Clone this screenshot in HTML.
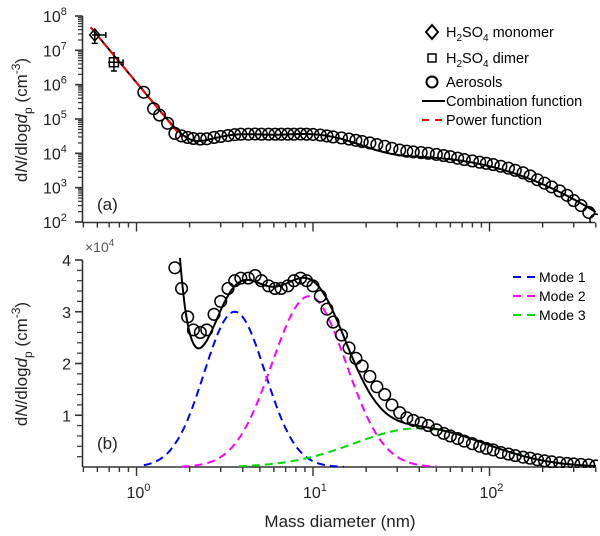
<!DOCTYPE html>
<html><head><meta charset="utf-8">
<style>
html,body{margin:0;padding:0;background:#fff;}
svg{display:block;font-family:"Liberation Sans",Arial,sans-serif;}
</style></head>
<body>
<svg id="chart" width="600" height="536" viewBox="0 0 600 536">
<defs>
<clipPath id="clipTop"><rect x="83" y="10" width="515" height="213"/></clipPath>
<clipPath id="clipBot"><rect x="83" y="258" width="515" height="210"/></clipPath>
</defs>
<g id="topPanel"></g>
<g id="botPanel"></g>
</svg>
<script>
// ---------- data ----------
const diam = [1.1,1.25,1.35,1.5,1.65,1.8,1.95,2.1,2.3,2.5,2.75,3.0,3.3,3.6,3.9,4.3,4.7,5.1,5.6,6.1,6.6,7.2,7.8,8.5,9.2,10,11,12,13,14.5,16,17.5,19,21,23,25.5,28,31,34,37,41,45,50,55,60,66,72,80,88,96,105,116,128,140,155,170,187,205,225,250,275,300,330,365,400];
const topVals = [6e5,2e5,1.3e5,7.5e4,3.8e4,3.2e4,2.9e4,2.7e4,2.6e4,2.65e4,2.9e4,3.1e4,3.3e4,3.5e4,3.6e4,3.6e4,3.65e4,3.6e4,3.6e4,3.6e4,3.6e4,3.6e4,3.6e4,3.65e4,3.6e4,3.55e4,3.4e4,3.2e4,3.0e4,2.8e4,2.6e4,2.4e4,2.2e4,2.0e4,1.8e4,1.6e4,1.4e4,1.25e4,1.15e4,1.1e4,1.05e4,1.0e4,9.3e3,8.6e3,8e3,7.2e3,6.6e3,6e3,5.5e3,5.1e3,4.7e3,4.2e3,3.7e3,3.2e3,2.7e3,2.2e3,1.7e3,1.35e3,1.05e3,800,600,420,300,190,115];
const botVals = [9,9,9,9,3.85,3.45,2.9,2.65,2.6,2.65,2.95,3.2,3.45,3.6,3.65,3.65,3.7,3.6,3.5,3.45,3.45,3.5,3.6,3.65,3.6,3.5,3.3,3.05,2.8,2.55,2.3,2.1,1.95,1.75,1.55,1.4,1.2,1.05,0.95,0.9,0.85,0.8,0.72,0.65,0.6,0.55,0.5,0.45,0.4,0.36,0.33,0.28,0.25,0.22,0.19,0.17,0.14,0.12,0.1,0.08,0.07,0.06,0.05,0.04,0.02];
const monomer = [0.58, 2.8e7];
const monomerErrX = [0.56, 0.67];
const monomerErrY = [1.6e7, 4.0e7];
const dimer = [0.745, 4.5e6];
const dimerErrX = [0.69, 0.84];
const dimerErrY = [2.5e6, 9e6];
const modePeaks = [3.0, 3.3, 0.75];
const modeCenters = [3.6, 9.5, 40];
const modeSigmas = [0.173, 0.21, 0.37];
const modeStart = [1.1, 1.8, 3.8];
const modeEnd = [15, 50, 400];
const powerParams = [1.15e6, -6.2];
const powerRange = [0.55, 1.8];
const yTopTicks = [2,3,4,5,6,7,8];
const yBotTicks = [1,2,3,4];
const xTickExp = [0,1,2];

// ---------- scales ----------
const X = d => 136.5 + 176.5*Math.log10(d);
const YT = v => 16 + (8 - Math.log10(v))*34.33;
const YB = v => 467 - v*51.75;
const NS = 'http://www.w3.org/2000/svg';
function mk(tag, attrs, parent){const e=document.createElementNS(NS,tag);for(const k in attrs)e.setAttribute(k,attrs[k]);parent.appendChild(e);return e;}
const topG = document.getElementById('topPanel'), botG = document.getElementById('botPanel');
const modeVal = (i,d) => modePeaks[i]*Math.exp(-Math.pow(Math.log10(d/modeCenters[i]),2)/(2*modeSigmas[i]*modeSigmas[i]));
const powerVal = d => powerParams[0]*Math.pow(d, powerParams[1]);
const combo = d => { let s = powerVal(d); for(let i=0;i<3;i++) s += modeVal(i,d)*1e4; return s; };
function samples(a,b,n){const r=[];const la=Math.log10(a),lb=Math.log10(b);for(let i=0;i<=n;i++)r.push(Math.pow(10,la+(lb-la)*i/n));return r;}

// ---------- axes ----------
function xAxis(g, y0, labels){
  const ax = mk('line',{x1:82.5,y1:y0,x2:595,y2:y0,stroke:'#333','stroke-width':1.6},g);
  
  
  for(let e=-1;e<=2;e++){for(let m=1;m<=9;m++){const d=m*Math.pow(10,e);if(d<0.5||d>400)continue;
    const t=mk('line',{x1:X(d),y1:y0,x2:X(d),y2:y0+(m===1?9:5),stroke:'#333','stroke-width':1.4},g);
    
    }}
  if(labels){xTickExp.forEach(e=>{
    const t=mk('text',{x:X(Math.pow(10,e))-10,y:y0+31,'font-size':16,fill:'#222'},g);
    
    
    t.innerHTML='10<tspan dy="-7" font-size="11">'+e+'</tspan>';});}
}
(function(){
  const a=mk('line',{x1:82.5,y1:16,x2:82.5,y2:223,stroke:'#333','stroke-width':1.6},topG);
  
  
  for(let e=2;e<8;e++)for(let m=2;m<=9;m++){const y=YT(m*Math.pow(10,e));
    const t=mk('line',{x1:78,y1:y,x2:82.5,y2:y,stroke:'#333','stroke-width':1.2},topG);
    
    }
  yTopTicks.forEach(e=>{const y=YT(Math.pow(10,e));
    const t=mk('line',{x1:75,y1:y,x2:82.5,y2:y,stroke:'#333','stroke-width':1.6},topG);
    
    
    const l=mk('text',{x:43,y:y+6,'font-size':16,fill:'#222'},topG);
    
    
    l.innerHTML='10<tspan dy="-7" font-size="11">'+e+'</tspan>';});
  const tt=mk('text',{transform:'translate(27,120) rotate(-90)','text-anchor':'middle','font-size':17,fill:'#222'},topG);
  
  
  tt.innerHTML='d<tspan font-style="italic">N</tspan>/dlog<tspan font-style="italic">d</tspan><tspan dy="5" font-size="12">p</tspan><tspan dy="-5"> (cm</tspan><tspan dy="-7" font-size="12">-3</tspan><tspan dy="7">)</tspan>';
  const pl=mk('text',{x:97,y:210,'font-size':17,fill:'#222'},topG); pl.textContent='(a)';
  
  
})();
xAxis(topG, 222.5, false);
(function(){
  const a=mk('line',{x1:82.5,y1:260,x2:82.5,y2:467,stroke:'#333','stroke-width':1.6},botG);
  
  
  for(let v=0.2;v<4;v+=0.2){const y=YB(v);
    const t=mk('line',{x1:77,y1:y,x2:82.5,y2:y,stroke:'#333','stroke-width':1.2},botG);
    
    }
  yBotTicks.forEach(v=>{const y=YB(v);
    const t=mk('line',{x1:75,y1:y,x2:82.5,y2:y,stroke:'#333','stroke-width':1.6},botG);
    
    
    const l=mk('text',{x:71,y:y+6,'font-size':16,fill:'#222','text-anchor':'end'},botG); l.textContent=v;
    
    });
  const m=mk('text',{x:85,y:252,'font-size':14,fill:'#555'},botG);
  
  
  m.innerHTML='×10<tspan dy="-6" font-size="10">4</tspan>';
  const tt=mk('text',{transform:'translate(27,364) rotate(-90)','text-anchor':'middle','font-size':17,fill:'#222'},botG);
  
  
  tt.innerHTML='d<tspan font-style="italic">N</tspan>/dlog<tspan font-style="italic">d</tspan><tspan dy="5" font-size="12">p</tspan><tspan dy="-5"> (cm</tspan><tspan dy="-7" font-size="12">-3</tspan><tspan dy="7">)</tspan>';
  const pl=mk('text',{x:97,y:449,'font-size':17,fill:'#222'},botG); pl.textContent='(b)';
  
  
  const xt=mk('text',{x:340,y:527,'font-size':17,fill:'#222','text-anchor':'middle'},botG); xt.textContent='Mass diameter (nm)';
  
  
})();
xAxis(botG, 467, true);

// ---------- top panel series ----------
const gT = mk('g',{'clip-path':'url(#clipTop)'},topG);
let pts = samples(0.55,400,300).map(d=>X(d).toFixed(1)+','+YT(combo(d)).toFixed(1)).join(' ');
const cl=mk('polyline',{points:pts,fill:'none',stroke:'#000','stroke-width':2},gT);


pts = samples(powerRange[0],powerRange[1],40).map(d=>X(d).toFixed(1)+','+YT(powerVal(d)).toFixed(1)).join(' ');
const pw=mk('polyline',{points:pts,fill:'none',stroke:'#f00','stroke-width':2,'stroke-dasharray':'7,3'},gT);


diam.forEach((d,i)=>{const c=mk('circle',{cx:X(d),cy:YT(topVals[i]),r:5.8,fill:'none',stroke:'#000','stroke-width':1.5},gT);
  
  });
function errbar(g,p,ex,ey){
  mk('line',{x1:X(ex[0]),y1:YT(p[1]),x2:X(ex[1]),y2:YT(p[1]),stroke:'#000','stroke-width':1.5},g);
  mk('line',{x1:X(ex[1]),y1:YT(p[1])-3,x2:X(ex[1]),y2:YT(p[1])+3,stroke:'#000','stroke-width':1.5},g);
  mk('line',{x1:X(p[0]),y1:YT(ey[0]),x2:X(p[0]),y2:YT(ey[1]),stroke:'#000','stroke-width':1.5},g);
  mk('line',{x1:X(p[0])-3,y1:YT(ey[0]),x2:X(p[0])+3,y2:YT(ey[0]),stroke:'#000','stroke-width':1.5},g);
}
errbar(gT,monomer,monomerErrX,monomerErrY);
errbar(gT,dimer,dimerErrX,dimerErrY);
(function(){const x=X(monomer[0]),y=YT(monomer[1]);
  const m=mk('polygon',{points:`${x},${y-6} ${x+5},${y} ${x},${y+6} ${x-5},${y}`,fill:'none',stroke:'#000','stroke-width':1.5},gT);
  
  
  const x2=X(dimer[0]),y2=YT(dimer[1]);
  const s=mk('rect',{x:x2-4.5,y:y2-4.5,width:9,height:9,fill:'none',stroke:'#000','stroke-width':1.5},gT);
  
  })();

(function(){
  const g=mk('g',{},topG);
  
  
  const fs=14.5;
  mk('polygon',{points:'432,25 438,32 432,39 426,32',fill:'none',stroke:'#000','stroke-width':2},g);
  let t=mk('text',{x:446,y:37,'font-size':fs},g); t.innerHTML='H<tspan dy="4" font-size="10">2</tspan><tspan dy="-4">SO</tspan><tspan dy="4" font-size="10">4</tspan><tspan dy="-4"> monomer</tspan>';
  
  
  mk('rect',{x:428,y:54,width:8,height:8,fill:'none',stroke:'#000','stroke-width':1.5},g);
  t=mk('text',{x:446,y:63,'font-size':fs},g); t.innerHTML='H<tspan dy="4" font-size="10">2</tspan><tspan dy="-4">SO</tspan><tspan dy="4" font-size="10">4</tspan><tspan dy="-4"> dimer</tspan>';
  
  
  mk('circle',{cx:432,cy:82,r:5.5,fill:'none',stroke:'#000','stroke-width':2},g);
  t=mk('text',{x:446,y:87,'font-size':fs},g); t.textContent='Aerosols';
  
  
  mk('line',{x1:422,y1:101,x2:445,y2:101,stroke:'#000','stroke-width':2},g);
  t=mk('text',{x:446,y:106,'font-size':fs},g); t.textContent='Combination function';
  
  
  mk('line',{x1:422,y1:120,x2:445,y2:120,stroke:'#f00','stroke-width':2,'stroke-dasharray':'7,6'},g);
  t=mk('text',{x:446,y:125,'font-size':fs},g); t.textContent='Power function';
  
  
})();

// ---------- bottom panel series ----------
const gB = mk('g',{'clip-path':'url(#clipBot)'},botG);
const modeColors=['#0000ff','#ff00ff','#00dd00'];
for(let i=0;i<3;i++){
  const p = samples(modeStart[i],modeEnd[i],150).map(d=>X(d).toFixed(1)+','+YB(modeVal(i,d)).toFixed(1)).join(' ');
  const l=mk('polyline',{points:p,fill:'none',stroke:modeColors[i],'stroke-width':2,'stroke-dasharray':'8,5'},gB);
  
  
}
pts = samples(1.75,400,300).map(d=>X(d).toFixed(1)+','+YB(combo(d)/1e4).toFixed(1)).join(' ');
const cb=mk('polyline',{points:pts,fill:'none',stroke:'#000','stroke-width':2},gB);


diam.forEach((d,i)=>{const c=mk('circle',{cx:X(d),cy:YB(botVals[i]),r:5.8,fill:'none',stroke:'#000','stroke-width':1.5},gB);
  
  });
(function(){
  const g=mk('g',{},botG);
  
  
  const ys=[277,296,315];
  for(let i=0;i<3;i++){
    mk('line',{x1:513,y1:ys[i],x2:537,y2:ys[i],stroke:modeColors[i],'stroke-width':2,'stroke-dasharray':'8,6'},g);
    const t=mk('text',{x:539,y:ys[i]+5,'font-size':14},g); t.textContent='Mode '+(i+1);
    
    
  }
})();
</script>
</body></html>
